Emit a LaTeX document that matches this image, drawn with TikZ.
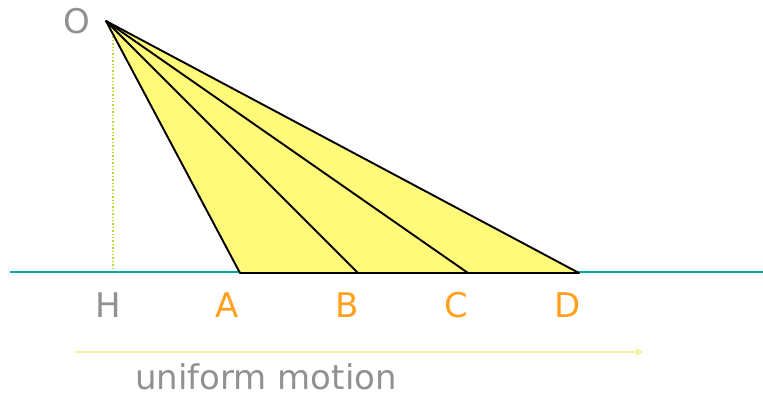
\documentclass[tikz,border=0pt]{standalone}
\usepackage{fontspec}
\setmainfont{DejaVu Sans}
\usetikzlibrary{arrows.meta}
\definecolor{fillY}{RGB}{255,250,122}
\definecolor{teal2}{RGB}{0,168,168}
\definecolor{grayT}{RGB}{145,145,145}
\definecolor{orangeT}{RGB}{255,160,30}
\definecolor{arrowY}{RGB}{244,240,160}
\definecolor{dotG}{RGB}{185,216,50}
\tikzset{
  lbl/.style={font=\fontsize{34}{34}\selectfont, inner sep=0pt},
  ptlbl/.style={lbl, text=orangeT},
  ray/.style={draw=black, line width=1.9pt},
}
\begin{document}
\begin{tikzpicture}[x=1pt,y=-1pt]
\useasboundingbox (0,0) rectangle (763,397);
\coordinate (O) at (106,21);
\coordinate (Hp) at (113,271);
\coordinate (Ht) at (113,33);
\coordinate (A) at (240,273);
\coordinate (B) at (358,273);
\coordinate (C) at (468,273);
\coordinate (D) at (579,273);
\coordinate (L) at (10,272);
\coordinate (R) at (763,272);
\coordinate (s1) at (75,352);
\coordinate (s2) at (643,352);
% baseline
\draw[teal2, line width=2pt] (L) -- (R);
% dotted height
\draw[dotG, line width=1.4pt, dotted] (Ht) -- (Hp);
% triangle
\fill[fillY] (O) -- (A) -- (D) -- cycle;
\draw[ray, line join=round] (O) -- (A) -- (D) -- cycle;
\draw[ray] (O) -- (B);
\draw[ray] (O) -- (C);
% labels
\node[lbl, text=grayT] (lO) at (77,21) {O};
\node[lbl, text=grayT] (lH) at (108,305) {H};
\node[ptlbl] (lA) at (227,305) {A};
\node[ptlbl] (lB) at (347,305) {B};
\node[ptlbl] (lC) at (456,305) {C};
\node[ptlbl] (lD) at (568,305) {D};
% arrow
\draw[arrowY, line width=2.6pt, -{Triangle[length=7pt,width=8pt]}] (s1) -- (s2);
\node[lbl, text=grayT, anchor=base] (um) at (266,389) {uniform motion};
\end{tikzpicture}
\end{document}
